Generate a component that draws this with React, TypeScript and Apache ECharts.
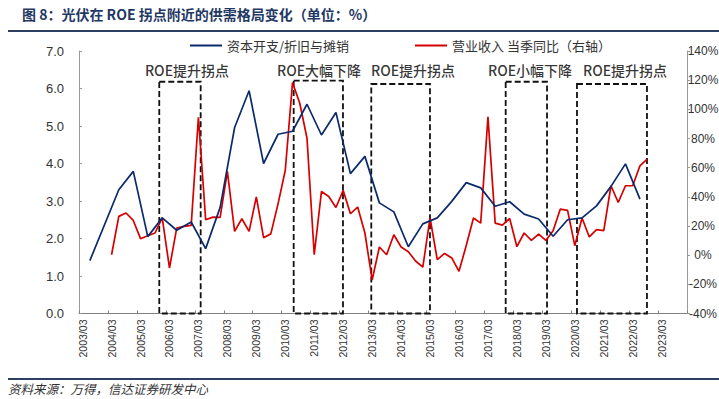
import React, { useEffect, useRef } from 'react';
import * as echarts from 'echarts';

// Quarterly category axis 2003/03 .. 2023/12
const quarterEnds = ['03', '06', '09', '12'];
const categories: string[] = [];
for (let y = 2003; y <= 2023; y++) for (const q of quarterEnds) categories.push(`${y}/${q}`);

// 资本开支/折旧与摊销 (half-yearly)
const capexDates = [
  '2003/06', '2004/06', '2004/12', '2005/06', '2005/12', '2006/06', '2006/12', '2007/06', '2007/12',
  '2008/06', '2008/12', '2009/06', '2009/12', '2010/06', '2010/12', '2011/06', '2011/12', '2012/06',
  '2012/12', '2013/06', '2013/12', '2014/06', '2014/12', '2015/06', '2015/12', '2016/06', '2016/12',
  '2017/06', '2017/12', '2018/06', '2018/12', '2019/06', '2019/12', '2020/06', '2020/12', '2021/06',
  '2021/12', '2022/06',
];
const capexValues = [
  1.41, 3.3, 3.79, 2.05, 2.55, 2.22, 2.44, 1.73, 2.83,
  4.96, 5.94, 4.0, 4.78, 4.86, 5.58, 4.76, 5.36, 3.73,
  4.19, 2.95, 2.71, 1.78, 2.39, 2.55, 2.99, 3.49, 3.35,
  2.86, 2.98, 2.65, 2.52, 2.06, 2.5, 2.55, 2.87, 3.39,
  3.99, 3.05,
];

// 营业收入 当季同比 (%), quarterly from 2004/03
const revenueStart = '2004/03';
const revenueYoY = [
  0.3, 26.6, 28.9, 23.8, 11.3, 13.3, 15.2, 25.5, -8.8, 18.6, 19.7, 20.4,
  94.6, 24.3, 26.1, 25.9, 57.4, 16.3, 25.0, 16.3, 40.0, 12.0, 14.6, 35.2,
  58.2, 118.3, 104.2, 80.2, 0.3, 43.7, 40.2, 32.7, 44.4, 28.4, 33.0, 15.2,
  -17.0, 5.6, 0.3, 14.0, 5.6, 2.4, -4.0, -8.2, 25.5, -3.1, 1.2, -1.9,
  -11.1, 6.6, 25.5, 22.0, 94.8, 22.0, 20.6, 25.2, 5.8, 15.2, 10.1, 14.5,
  10.1, 16.8, 31.6, 30.7, 6.5, 25.5, 12.5, 17.5, 16.8, 47.6, 36.1, 47.6,
  47.6, 61.3, 65.8,
];

// Phase boxes, in quarter units along the axis (0 = left edge) and left-axis values
const phaseNames = ['ROE提升拐点', 'ROE大幅下降', 'ROE提升拐点', 'ROE小幅下降', 'ROE提升拐点'];
const phaseStart = [11.09, 29.66, 40.38, 58.95, 68.8];
const phaseEnd = [16.81, 36.47, 48.49, 64.66, 78.47];
const phaseTop = [6.18, 6.21, 6.12, 6.18, 6.12];
const phaseLabelX = [14.92, 33.16, 46.15, 62.31, 75.44];
const phaseLabelY = 6.49;

const leftAxis = { min: 0, max: 7, interval: 1 };
const rightAxis = { min: -40, max: 140, interval: 20 };

const CJK = '"Noto Sans CJK SC", "Noto Sans", sans-serif';
const LAT = '"Liberation Sans", Arial, sans-serif';

export default function App() {
  const ref = useRef<HTMLDivElement>(null);
  useEffect(() => {
    if (!ref.current) return;
    const chart = echarts.init(ref.current, undefined, { renderer: 'svg' });

    const capexFull: (number | null)[] = categories.map(() => null);
    capexDates.forEach((d, i) => {
      const k = categories.indexOf(d);
      if (k >= 0) capexFull[k] = capexValues[i];
    });
    const revFull: (number | null)[] = categories.map(() => null);
    const s0 = categories.indexOf(revenueStart);
    revenueYoY.forEach((v, i) => {
      revFull[s0 + i] = v;
    });

    const boxes = phaseStart.map((s, i) => [
      { xAxis: s, yAxis: phaseTop[i] },
      { xAxis: phaseEnd[i], yAxis: 0 },
    ]);
    const labels = phaseNames.map((n, i) => [phaseLabelX[i], phaseLabelY, n]);

    chart.setOption({
      animation: false,
      backgroundColor: '#fff',
      grid: {
        left: 79,
        right: 32,
        top: 51,
        bottom: 85.5,
        containLabel: false,
        outerBoundsMode: 'none',
      },
      legend: [
        {
          data: ['资本开支/折旧与摊销'],
          left: 190,
          top: 39,
          padding: 0,
          icon: 'rect',
          itemWidth: 32,
          itemHeight: 2,
          textStyle: { fontSize: 13, color: '#333', fontFamily: CJK },
        },
        {
          data: ['营业收入 当季同比（右轴）'],
          left: 415,
          top: 39,
          padding: 0,
          icon: 'rect',
          itemWidth: 32,
          itemHeight: 2,
          textStyle: { fontSize: 13, color: '#333', fontFamily: CJK },
        },
      ],
      xAxis: [
        {
          type: 'category',
          data: categories,
          boundaryGap: true,
          axisLine: { show: true, lineStyle: { color: '#808080', width: 1 } },
          axisTick: { show: true, inside: true, length: 3, interval: 3, lineStyle: { color: '#808080' } },
          axisLabel: {
            interval: 3,
            rotate: 90,
            margin: 6,
            fontSize: 10.5,
            color: '#333',
            fontFamily: LAT,
          },
          splitLine: { show: false },
        },
        {
          type: 'value',
          min: 0,
          max: categories.length,
          interval: 4,
          show: false,
        },
      ],
      yAxis: [
        {
          type: 'value',
          min: leftAxis.min,
          max: leftAxis.max,
          interval: leftAxis.interval,
          axisLine: { show: true, lineStyle: { color: '#999' } },
          axisTick: { show: true, inside: true, length: 3, lineStyle: { color: '#999' } },
          axisLabel: {
            formatter: (v: number) => v.toFixed(1),
            fontSize: 13,
            margin: 15,
            color: '#333',
            fontFamily: LAT,
          },
          splitLine: { show: false },
        },
        {
          type: 'value',
          min: rightAxis.min,
          max: rightAxis.max,
          interval: rightAxis.interval,
          position: 'right',
          axisLine: { show: true, lineStyle: { color: '#999' } },
          axisTick: { show: true, inside: false, length: 3, lineStyle: { color: '#999' } },
          axisLabel: {
            formatter: (v: number) => `${v}%`,
            fontSize: 12,
            margin: 16,
            align: 'center',
            color: '#333',
            fontFamily: LAT,
          },
          splitLine: { show: false },
        },
      ],
      series: [
        {
          name: '资本开支/折旧与摊销',
          type: 'line',
          xAxisIndex: 0,
          yAxisIndex: 0,
          data: capexFull,
          connectNulls: true,
          showSymbol: false,
          symbol: 'none',
          color: '#0b2a6b',
          lineStyle: { color: '#0b2a6b', width: 1.7 },
          z: 3,
        },
        {
          name: '营业收入 当季同比（右轴）',
          type: 'line',
          xAxisIndex: 0,
          yAxisIndex: 1,
          data: revFull,
          showSymbol: false,
          symbol: 'none',
          color: '#d60000',
          lineStyle: { color: '#d60000', width: 1.7 },
          z: 2,
        },
        {
          name: 'phases',
          type: 'scatter',
          xAxisIndex: 1,
          yAxisIndex: 0,
          data: labels,
          symbolSize: 0,
          silent: true,
          label: {
            show: true,
            position: 'inside',
            formatter: (p: any) => p.data[2],
            fontSize: 14,
            fontWeight: 500,
            color: '#000',
            fontFamily: CJK,
          },
          markArea: {
            silent: true,
            itemStyle: {
              color: 'rgba(0,0,0,0)',
              borderColor: '#111',
              borderWidth: 1.8,
              borderType: [6, 3],
            },
            label: { show: false },
            data: boxes,
          },
          z: 4,
        },
      ],
      graphic: [
        {
          type: 'text',
          left: 22,
          top: 7,
          style: {
            text: '图 8：光伏在 ROE 拐点附近的供需格局变化（单位：%）',
            fontSize: 14,
            fontWeight: 'bold',
            fill: '#1f3864',
            fontFamily: CJK,
          },
        },
        {
          type: 'line',
          shape: { x1: 8, y1: 31, x2: 719, y2: 31 },
          style: { stroke: '#2f3e63', lineWidth: 2 },
        },
        {
          type: 'line',
          shape: { x1: 8, y1: 379, x2: 719, y2: 379 },
          style: { stroke: '#2f3e63', lineWidth: 2 },
        },
        {
          type: 'text',
          left: 8,
          top: 382,
          style: {
            text: '资料来源：万得，信达证券研发中心',
            fontSize: 12.5,
            fontStyle: 'italic',
            fill: '#333',
            fontFamily: CJK,
          },
        },
      ],
    });
    return () => chart.dispose();
  }, []);
  return (
    <div
      ref={ref}
      style={{ position: 'absolute', left: 0, top: 0, width: 719, height: 399, background: '#fff' }}
    />
  );
}
